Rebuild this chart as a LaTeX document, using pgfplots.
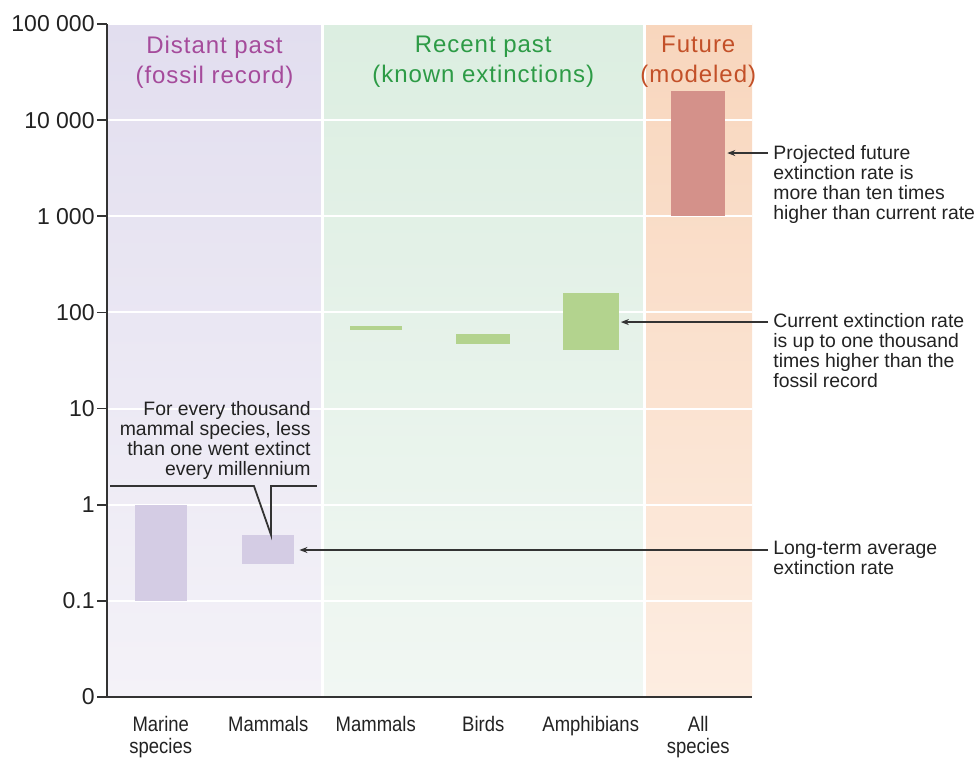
\documentclass[border=0pt]{standalone}
\usepackage{fontspec}
\setmainfont{Liberation Sans}
\newfontfamily\condfont[FakeStretch=0.88]{Liberation Sans}
\newfontfamily\headfont[LetterSpace=4]{Liberation Sans}
\usepackage{pgfplots}
\pgfplotsset{compat=1.18}
\usetikzlibrary{arrows.meta}

\definecolor{axisgray}{HTML}{333333}
\definecolor{txt}{HTML}{222222}
\definecolor{pastTop}{HTML}{E2DEEF}
\definecolor{pastBot}{HTML}{F4F2F8}
\definecolor{recTop}{HTML}{DCEEE1}
\definecolor{recBot}{HTML}{F1F7F3}
\definecolor{futTop}{HTML}{F8D6BD}
\definecolor{futBot}{HTML}{FDEDE1}
\definecolor{pastBar}{HTML}{D4CCE4}
\definecolor{recBar}{HTML}{B3D38E}
\definecolor{futBar}{HTML}{D4918A}
\definecolor{pastTxt}{HTML}{A54B9B}
\definecolor{recTxt}{HTML}{2D9B46}
\definecolor{futTxt}{HTML}{C35028}

\begin{document}
\begin{tikzpicture}
\begin{axis}[
  name=ax, set layers, scale only axis,
  width=322.5pt, height=336.5pt,
  ymode=log, ymin=0.01, ymax=100000,
  xmin=-0.5, xmax=5.5,
  axis x line=bottom, axis y line=left,
  axis line style={-, axisgray, line width=0.8pt},
  ytick={0.01,0.1,1,10,100,1000,10000,100000},
  yticklabels={0,0.1,1,10,100,1 000,10 000,100 000},
  yminorticks=false,
  ytick align=outside, major tick length=5pt,
  ytick style={axisgray, line width=0.8pt},
  yticklabel style={font=\fontsize{11.5}{12}\selectfont, text=txt, inner sep=1pt},
  xtick={0,1,2,3,4,5},
  xticklabels={Marine\\species, Mammals, Mammals, Birds, Amphibians, All\\species},
  xtick style={draw=none},
  xticklabel style={align=center, font=\condfont\fontsize{10.5}{11}\selectfont, text=txt, inner sep=0pt, anchor=north, yshift=-7pt},
  ymajorgrids, grid style={white, line width=1pt},
  clip=false,
]
\begin{pgfonlayer}{axis background}
  \fill[top color=pastTop, bottom color=pastBot] (axis cs:-0.5,0.01) rectangle (axis cs:1.5,100000);
  \fill[top color=recTop, bottom color=recBot] (axis cs:1.5,0.01) rectangle (axis cs:4.5,100000);
  \fill[top color=futTop, bottom color=futBot] (axis cs:4.5,0.01) rectangle (axis cs:5.5,100000);
  \draw[white, line width=1.5pt] (axis cs:1.5,0.01) -- (axis cs:1.5,100000);
  \draw[white, line width=1.5pt] (axis cs:4.5,0.01) -- (axis cs:4.5,100000);
\end{pgfonlayer}

% ranges of extinctions per million species-years
\addplot[fill=pastBar, draw=none] coordinates {(-0.24,0.1) (0.24,0.1) (0.24,1) (-0.24,1)};
\addplot[fill=pastBar, draw=none] coordinates {(0.76,0.24) (1.24,0.24) (1.24,0.48) (0.76,0.48)};
\addplot[fill=recBar, draw=none] coordinates {(1.76,65) (2.24,65) (2.24,73) (1.76,73)};
\addplot[fill=recBar, draw=none] coordinates {(2.75,47.5) (3.25,47.5) (3.25,60) (2.75,60)};
\addplot[fill=recBar, draw=none] coordinates {(3.74,41) (4.26,41) (4.26,158) (3.74,158)};
\addplot[fill=futBar, draw=none] coordinates {(4.75,1000) (5.25,1000) (5.25,20000) (4.75,20000)};

% panel headings
\tikzset{head/.style={anchor=north, align=center, inner sep=0pt, font=\headfont\fontsize{12}{15}\selectfont}}
\node[head, text=pastTxt] at (axis cs:0.5,75000) {Distant past\\(fossil record)};
\node[head, text=recTxt] at (axis cs:3,75000) {Recent past\\(known extinctions)};
\node[head, text=futTxt] at (axis cs:5,75000) {Future\\(modeled)};

% annotations
\tikzset{ann/.style={inner sep=0pt, text=txt, font=\fontsize{9.7}{10}\selectfont},
         pt/.style={axisgray, line width=0.9pt, -{Stealth[length=4pt,width=3pt]}}}
\node[ann, anchor=north west, align=left] at (axis cs:5.695,5512)
  {Projected future\\extinction rate is\\more than ten times\\higher than current rate};
\draw[pt] (axis cs:5.649,4550) -- (axis cs:5.27,4550);
\node[ann, anchor=north west, align=left] at (axis cs:5.695,98.6)
  {Current extinction rate\\is up to one thousand\\times higher than the\\fossil record};
\draw[pt] (axis cs:5.649,79.4) -- (axis cs:4.28,79.4);
\node[ann, anchor=north west, align=left] at (axis cs:5.695,0.419)
  {Long-term average\\extinction rate};
\draw[pt] (axis cs:5.649,0.338) -- (axis cs:1.29,0.338);
\node[ann, anchor=north east, align=right] at (axis cs:1.398,11.98)
  {For every thousand\\mammal species, less\\than one went extinct\\every millennium};
\draw[axisgray, line width=0.9pt] (axis cs:-0.472,1.565) -- (axis cs:0.867,1.565)
  -- (axis cs:1.026,0.484) -- (axis cs:1.026,1.565) -- (axis cs:1.453,1.565);
\end{axis}
\pgfresetboundingbox
\path ([xshift=-53.5pt,yshift=-30.5pt]ax.south west) rectangle ([xshift=112.5pt,yshift=12pt]ax.north east);
\end{tikzpicture}
\end{document}
